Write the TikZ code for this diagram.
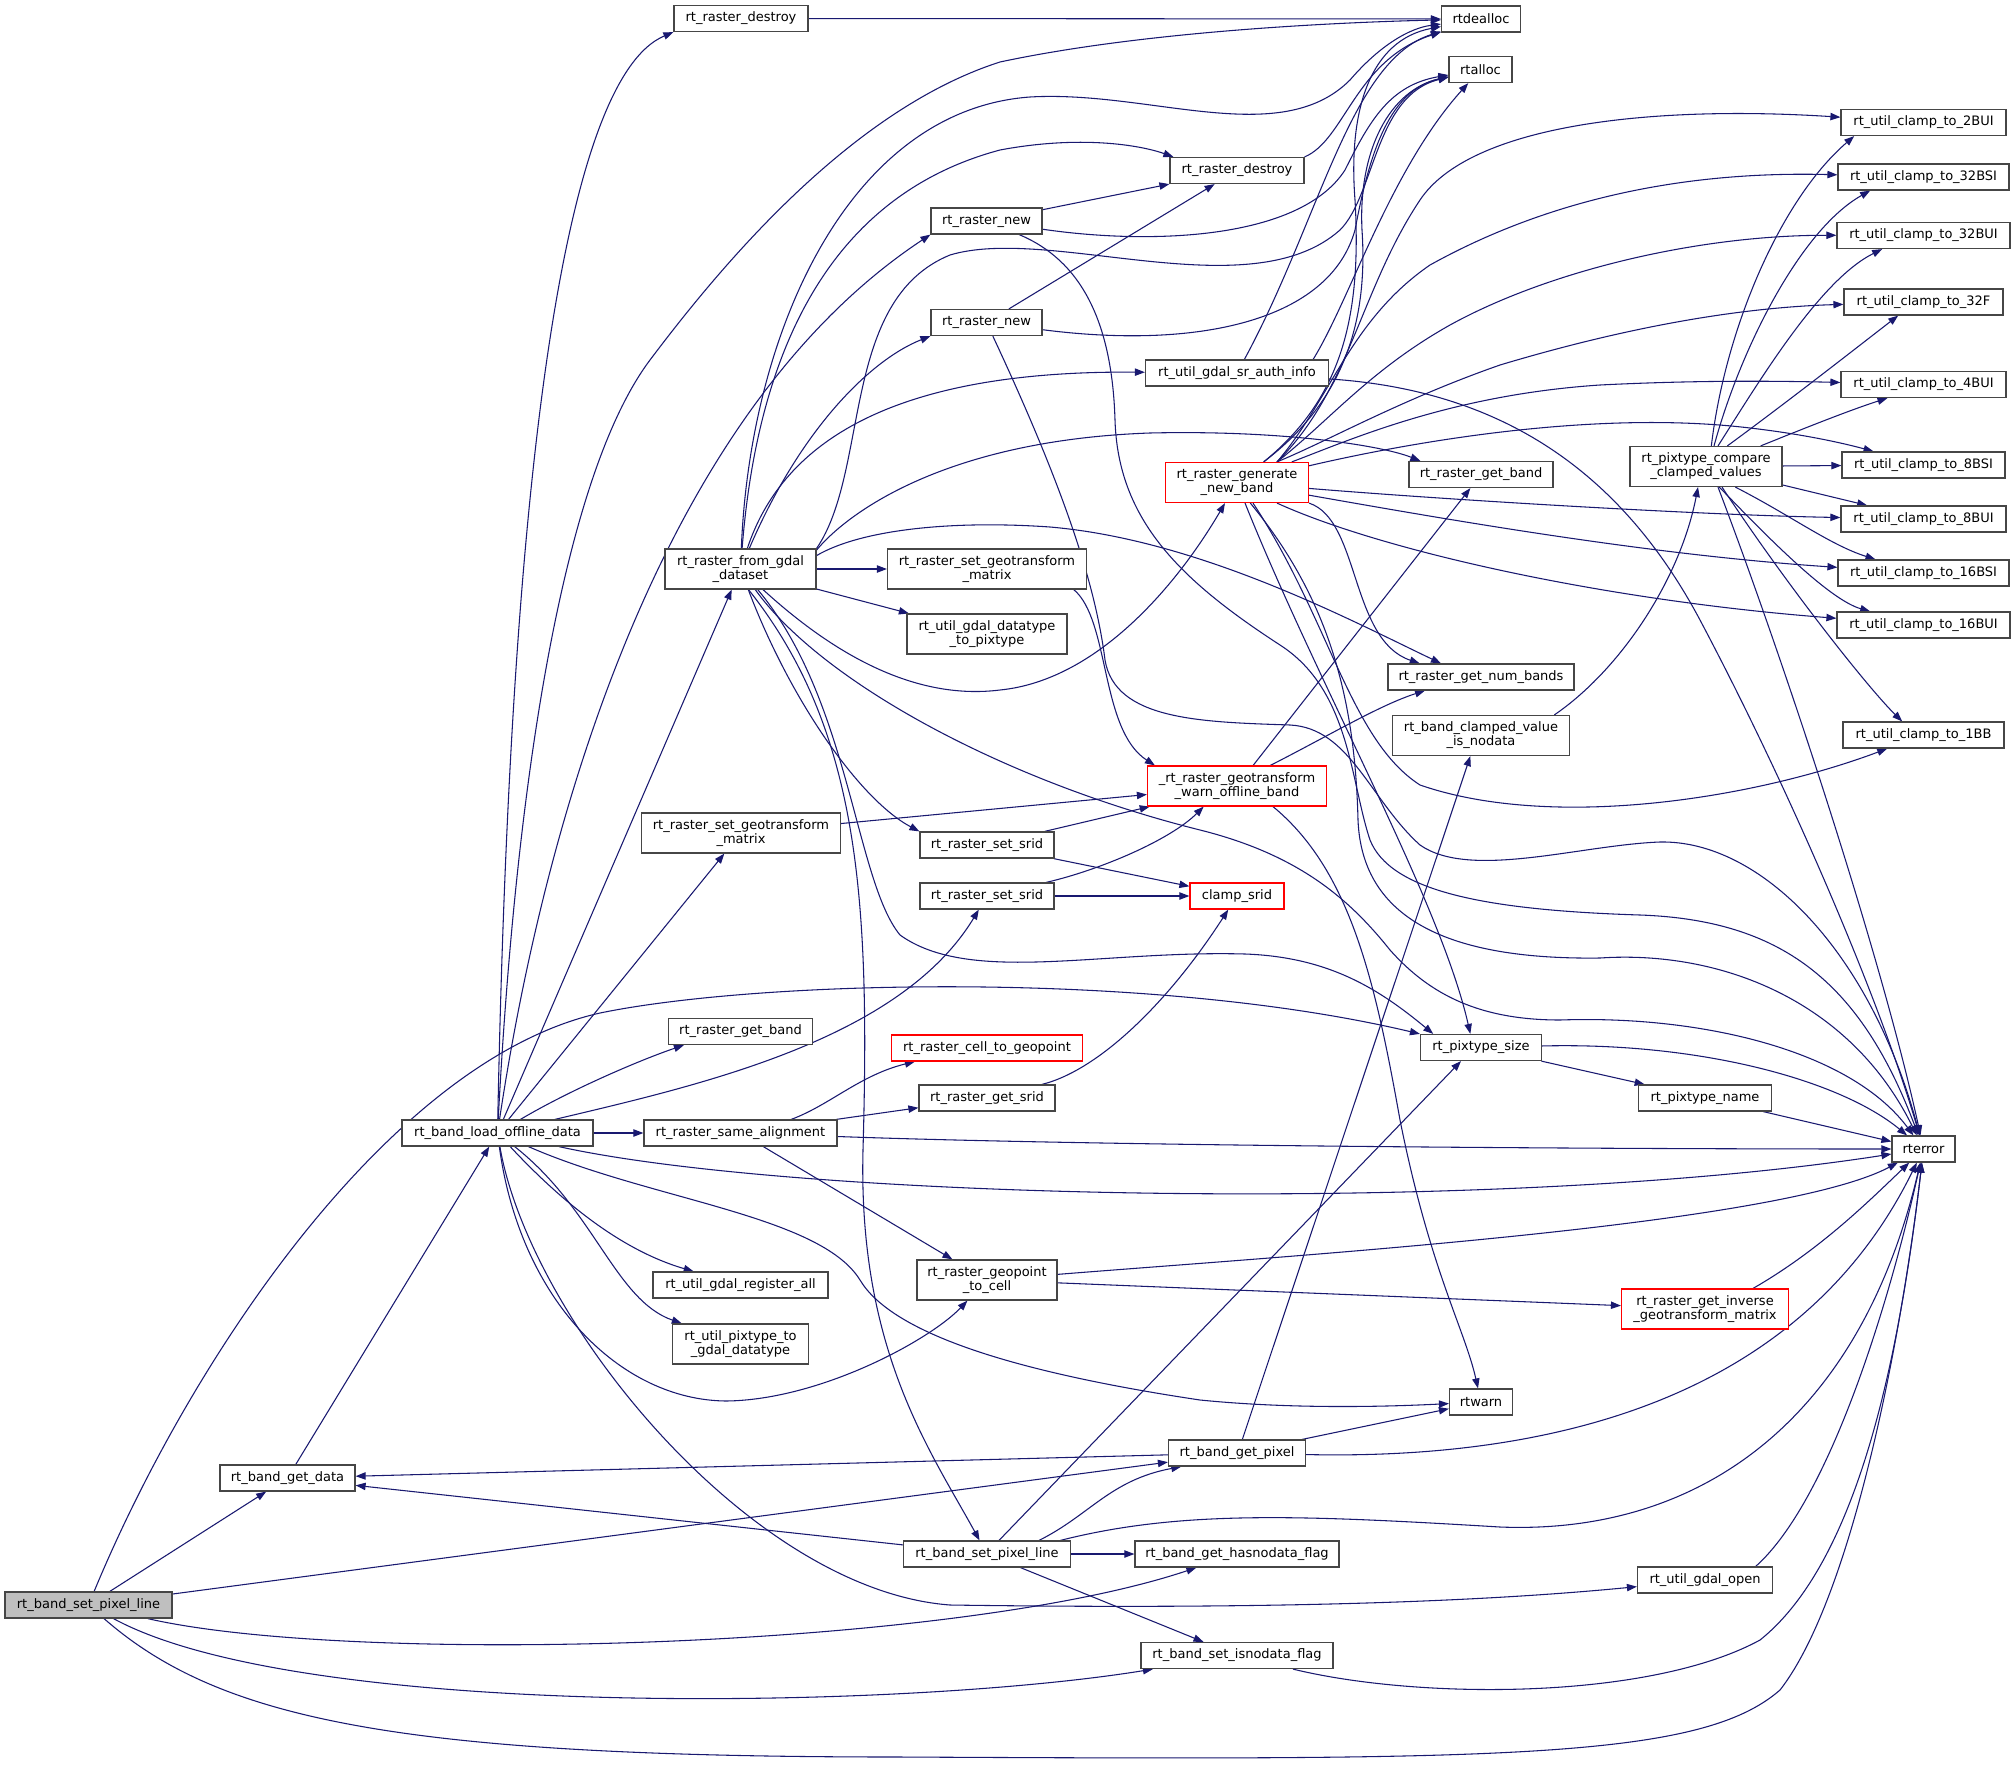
\documentclass[tikz,border=0pt]{standalone}
\usepackage{fontspec}
\setmainfont{DejaVu Sans}
\usetikzlibrary{arrows.meta,backgrounds}
\definecolor{edgec}{RGB}{25,25,112}
\definecolor{rootgray}{RGB}{191,191,191}
\definecolor{nodeb}{RGB}{70,70,70}
\tikzset{
  nd/.style={draw=nodeb, fill=white, line width=0.9pt, inner sep=0pt, align=center,
    font=\fontsize{9.75pt}{10.4pt}\selectfont},
  oneln/.style={minimum height=19.5pt},
  twoln/.style={minimum height=30pt},
  rednd/.style={draw=red},
  cedge/.style={draw=edgec, line width=0.8pt, -{Triangle[length=7.5pt,width=5.5pt]}}
}
\begin{document}
\begin{tikzpicture}[x=0.75pt,y=-0.75pt]
\useasboundingbox (0,0) rectangle (2016,1766);
% ---------------- nodes ----------------
\node[nd,oneln,fill=rootgray,minimum width=125.25pt] (root) at (88.5,1605) {rt\_band\_set\_pixel\_line};
\node[nd,oneln,minimum width=101.25pt] (getdata) at (287.5,1478) {rt\_band\_get\_data};
\node[nd,oneln,minimum width=143.25pt] (load) at (497.5,1133) {rt\_band\_load\_offline\_data};
\node[nd,oneln,minimum width=100.5pt] (destroyA) at (741,18.5) {rt\_raster\_destroy};
\node[nd,oneln,minimum width=59.25pt] (dealloc) at (1481,19) {rtdealloc};
\node[nd,oneln,minimum width=47.25pt] (alloc) at (1480.5,69.5) {rtalloc};
\node[nd,oneln,minimum width=100.5pt] (destroyB) at (1237,170.5) {rt\_raster\_destroy};
\node[nd,oneln,minimum width=83.25pt] (newA) at (986.5,221) {rt\_raster\_new};
\node[nd,oneln,minimum width=83.25pt] (newB) at (986.5,322.5) {rt\_raster\_new};
\node[nd,oneln,minimum width=137.25pt] (srauth) at (1237,373) {rt\_util\_gdal\_sr\_auth\_info};
\node[nd,twoln,rednd,minimum width=107.25pt] (gen) at (1237,482.5) {rt\_raster\_generate\\\_new\_band};
\node[nd,twoln,minimum width=113.25pt] (fromgdal) at (740.5,569) {rt\_raster\_from\_gdal\\\_dataset};
\node[nd,twoln,minimum width=149.25pt] (setgtA) at (987,569) {rt\_raster\_set\_geotransform\\\_matrix};
\node[nd,twoln,minimum width=120pt] (dt2pix) at (987,634) {rt\_util\_gdal\_datatype\\\_to\_pixtype};
\node[nd,twoln,rednd,minimum width=134.25pt] (warn) at (1237,786) {\_rt\_raster\_geotransform\\\_warn\_offline\_band};
\node[nd,twoln,minimum width=149.25pt] (setgtB) at (741,833) {rt\_raster\_set\_geotransform\\\_matrix};
\node[nd,oneln,minimum width=100.5pt] (sridA) at (987,845) {rt\_raster\_set\_srid};
\node[nd,oneln,minimum width=100.5pt] (sridB) at (987,896) {rt\_raster\_set\_srid};
\node[nd,oneln,rednd,minimum width=70.5pt] (clamp) at (1237,896) {clamp\_srid};
\node[nd,oneln,minimum width=108pt] (getbandL) at (740.5,1031.5) {rt\_raster\_get\_band};
\node[nd,oneln,rednd,minimum width=143.25pt] (cell2geo) at (987,1048) {rt\_raster\_cell\_to\_geopoint};
\node[nd,oneln,minimum width=102pt] (getsrid) at (987,1098) {rt\_raster\_get\_srid};
\node[nd,oneln,minimum width=144.75pt] (same) at (740.5,1133) {rt\_raster\_same\_alignment};
\node[nd,oneln,minimum width=131.25pt] (regall) at (740.5,1285) {rt\_util\_gdal\_register\_all};
\node[nd,twoln,minimum width=102pt] (pix2gdal) at (740.5,1344) {rt\_util\_pixtype\_to\\\_gdal\_datatype};
\node[nd,twoln,minimum width=105pt] (geo2cell) at (987,1280) {rt\_raster\_geopoint\\\_to\_cell};
\node[nd,oneln,minimum width=47.25pt] (rtwarn) at (1481,1402) {rtwarn};
\node[nd,oneln,minimum width=102.75pt] (getpixel) at (1237,1453) {rt\_band\_get\_pixel};
\node[nd,oneln,minimum width=125.25pt] (setpixB) at (987,1554) {rt\_band\_set\_pixel\_line};
\node[nd,oneln,minimum width=153pt] (hasnodata) at (1237,1554) {rt\_band\_get\_hasnodata\_flag};
\node[nd,oneln,minimum width=101.25pt] (gdalopen) at (1705,1580) {rt\_util\_gdal\_open};
\node[nd,oneln,minimum width=144pt] (isnodata) at (1237,1655.5) {rt\_band\_set\_isnodata\_flag};
\node[nd,oneln,minimum width=108pt] (getbandR) at (1481,474.5) {rt\_raster\_get\_band};
\node[nd,oneln,minimum width=139.5pt] (numbands) at (1481,677) {rt\_raster\_get\_num\_bands};
\node[nd,twoln,minimum width=132.75pt] (clampednd) at (1481,735.5) {rt\_band\_clamped\_value\\\_is\_nodata};
\node[nd,oneln,minimum width=90.75pt] (pixsize) at (1481,1047.5) {rt\_pixtype\_size};
\node[nd,oneln,minimum width=99.75pt] (pixname) at (1705,1098) {rt\_pixtype\_name};
\node[nd,twoln,rednd,minimum width=125.25pt] (invgt) at (1705,1309) {rt\_raster\_get\_inverse\\\_geotransform\_matrix};
\node[nd,twoln,minimum width=114pt] (compare) at (1706,466.5) {rt\_pixtype\_compare\\\_clamped\_values};
\node[nd,oneln,minimum width=123.75pt] (c2BUI) at (1923.5,122.5) {rt\_util\_clamp\_to\_2BUI};
\node[nd,oneln,minimum width=128.25pt] (c32BSI) at (1923.5,177) {rt\_util\_clamp\_to\_32BSI};
\node[nd,oneln,minimum width=129.75pt] (c32BUI) at (1923.5,235.5) {rt\_util\_clamp\_to\_32BUI};
\node[nd,oneln,minimum width=119.25pt] (c32F) at (1923.5,302) {rt\_util\_clamp\_to\_32F};
\node[nd,oneln,minimum width=123.75pt] (c4BUI) at (1923.5,384.5) {rt\_util\_clamp\_to\_4BUI};
\node[nd,oneln,minimum width=122.25pt] (c8BSI) at (1923.5,465) {rt\_util\_clamp\_to\_8BSI};
\node[nd,oneln,minimum width=123.75pt] (c8BUI) at (1923.5,519) {rt\_util\_clamp\_to\_8BUI};
\node[nd,oneln,minimum width=128.25pt] (c16BSI) at (1923.5,573) {rt\_util\_clamp\_to\_16BSI};
\node[nd,oneln,minimum width=129.75pt] (c16BUI) at (1923.5,625) {rt\_util\_clamp\_to\_16BUI};
\node[nd,oneln,minimum width=120.75pt] (c1BB) at (1923.5,735) {rt\_util\_clamp\_to\_1BB};
\node[nd,oneln,minimum width=47.25pt] (rterror) at (1923.5,1149) {rterror};
% ---------------- edges ----------------
\begin{scope}[on background layer]
\fill[white] (0,0) rectangle (2016,1766);
% root
\draw[cedge] (root) -- (getdata);
\draw[cedge] (root) .. controls (190,1360) and (390,1060) .. (600,1013) .. controls (760,980) and (1150,970) .. (pixsize.north west);
\draw[cedge] (root) -- (getpixel);
\draw[cedge] (root) .. controls (350,1665) and (950,1650) .. (hasnodata);
\draw[cedge] (root) .. controls (300,1720) and (900,1710) .. (isnodata);
\draw[cedge] (root) .. controls (220,1720) and (400,1757) .. (900,1757) .. controls (1500,1760) and (1700,1760) .. (1780,1690) .. controls (1850,1600) and (1900,1350) .. (rterror);
% get_data
\draw[cedge] (getdata) -- (load);
% load_offline_data
\draw[cedge] (load) .. controls (510,500) and (560,80) .. (destroyA.south west);
\draw[cedge] (load) .. controls (515,800) and (560,480) .. (650,360) .. controls (720,267) and (850,110) .. (1000,62) .. controls (1150,30) and (1350,22) .. (dealloc);
\draw[cedge] (load) .. controls (540,850) and (650,420) .. (newA.south west);
\draw[cedge] (load) -- (fromgdal);
\draw[cedge] (load) -- (setgtB);
\draw[cedge] (load) .. controls (570,1090) and (640,1060) .. ([xshift=12pt]getbandL.south west);
\draw[cedge] (load) .. controls (700,1085) and (900,1040) .. (sridB);
\draw[cedge] (load) -- (same);
\draw[cedge] (load) .. controls (800,1200) and (1500,1215) .. (rterror);
\draw[cedge] (load) .. controls (560,1200) and (620,1250) .. (regall);
\draw[cedge] (load) .. controls (595,1210) and (615,1300) .. (pix2gdal);
\draw[cedge] (load) .. controls (520,1300) and (620,1400) .. (726,1401) .. controls (820,1400) and (930,1340) .. (geo2cell);
\draw[cedge] (load) .. controls (650,1200) and (820,1215) .. (860,1280) .. controls (890,1330) and (1000,1370) .. (1200,1400) .. controls (1300,1410) and (1400,1406) .. (rtwarn);
\draw[cedge] (load) .. controls (530,1320) and (750,1590) .. (950,1605) .. controls (1300,1610) and (1500,1600) .. (gdalopen);
% from_gdal_dataset
\draw[cedge] (fromgdal) .. controls (750,330) and (850,110) .. (1030,97) .. controls (1150,90) and (1280,150) .. (1350,80) .. controls (1380,45) and (1410,28) .. (dealloc);
\draw[cedge] (fromgdal) .. controls (760,320) and (850,190) .. (1000,150) .. controls (1080,135) and (1140,145) .. ([xshift=3pt]destroyB.north west);
\draw[cedge] (fromgdal.north east) .. controls (870,470) and (840,300) .. (950,255) .. controls (1050,225) and (1250,310) .. (1340,230) .. controls (1375,195) and (1375,95) .. (alloc);
\draw[cedge] (fromgdal) .. controls (800,430) and (870,360) .. (newB.south west);
\draw[cedge] (fromgdal) .. controls (780,450) and (880,370) .. (srauth);
\draw[cedge] (fromgdal.14) .. controls (850,510) and (950,440) .. (1150,433) .. controls (1280,430) and (1380,445) .. ([xshift=9pt]getbandR.north west);
\draw[cedge] (fromgdal) -- (setgtA);
\draw[cedge] (fromgdal) -- (dt2pix);
\draw[cedge] (fromgdal) .. controls (840,660) and (920,700) .. (1000,690) .. controls (1100,680) and (1180,580) .. (gen);
\draw[cedge] (fromgdal.10) .. controls (860,530) and (950,520) .. (1050,527) .. controls (1200,540) and (1350,620) .. ([xshift=-30pt]numbands.north);
\draw[cedge] (fromgdal) .. controls (790,700) and (860,800) .. (sridA.north west);
\draw[cedge] (fromgdal) .. controls (850,700) and (855,880) .. (900,935) .. controls (970,985) and (1100,950) .. (1245,954) .. controls (1330,957) and (1380,990) .. ([xshift=10pt]pixsize.north west);
\draw[cedge] ([xshift=6pt]fromgdal.south) .. controls (860,730) and (870,900) .. (863,1150) .. controls (858,1350) and (930,1450) .. (setpixB);
\draw[cedge] (fromgdal) .. controls (820,680) and (1000,780) .. (1200,830) .. controls (1300,855) and (1350,900) .. (1390,950) .. controls (1430,995) and (1480,1020) .. (1560,1020) .. controls (1700,1015) and (1850,1050) .. (rterror);
% rt_raster_new (upper)
\draw[cedge] (newA) -- (destroyB);
\draw[cedge] (newA) .. controls (1150,245) and (1300,240) .. (1345,170) .. controls (1370,120) and (1390,85) .. (alloc);
\draw[cedge] (newA) .. controls (1080,260) and (1112,320) .. (1115,420) .. controls (1118,520) and (1180,580) .. (1280,645) .. controls (1350,690) and (1350,780) .. (1370,840) .. controls (1390,890) and (1480,910) .. (1640,915) .. controls (1780,920) and (1860,980) .. (rterror);
% rt_raster_new (lower)
\draw[cedge] (newB) -- (destroyB);
\draw[cedge] (newB) .. controls (1200,350) and (1330,320) .. (1355,230) .. controls (1370,150) and (1390,90) .. (alloc);
\draw[cedge] (newB) .. controls (1060,480) and (1095,580) .. (1105,660) .. controls (1115,720) and (1200,722) .. (1290,725) .. controls (1350,728) and (1370,800) .. (1420,845) .. controls (1470,880) and (1580,845) .. (1660,842) .. controls (1760,840) and (1870,950) .. (rterror);
% sr_auth_info
\draw[cedge] (srauth) .. controls (1320,220) and (1350,60) .. (dealloc);
\draw[cedge] ([xshift=-12pt]srauth.north east) .. controls (1350,300) and (1390,170) .. (alloc);
\draw[cedge] (srauth) .. controls (1500,390) and (1620,470) .. (1700,620) .. controls (1790,790) and (1880,1000) .. (rterror);
% destroy
\draw[cedge] (destroyA) -- (dealloc);
\draw[cedge] (destroyB.north east) .. controls (1345,140) and (1355,60) .. (dealloc);
% generate_new_band
\draw[cedge] ([xshift=20pt]gen.north) .. controls (1340,400) and (1362,320) .. (1355,200) .. controls (1348,110) and (1370,40) .. (dealloc);
\draw[cedge] ([xshift=20pt]gen.north) .. controls (1345,400) and (1368,320) .. (1362,230) .. controls (1358,150) and (1390,90) .. (alloc);
\draw[cedge] ([xshift=30pt]gen.north) .. controls (1350,390) and (1360,290) .. (1420,200) .. controls (1470,125) and (1650,105) .. (c2BUI);
\draw[cedge] ([xshift=30pt]gen.north) .. controls (1330,400) and (1350,320) .. (1430,265) .. controls (1520,215) and (1650,170) .. (c32BSI);
\draw[cedge] ([xshift=30pt]gen.north) .. controls (1330,420) and (1370,370) .. (1450,325) .. controls (1550,270) and (1700,235) .. (c32BUI);
\draw[cedge] ([xshift=30pt]gen.north) .. controls (1330,440) and (1400,400) .. (1500,365) .. controls (1600,335) and (1720,308) .. (c32F);
\draw[cedge] (gen) .. controls (1350,440) and (1450,395) .. (1600,385) .. controls (1700,380) and (1780,381) .. (c4BUI);
\draw[cedge] (gen) .. controls (1420,440) and (1600,410) .. (1750,428) .. controls (1810,435) and (1850,445) .. (c8BSI);
\draw[cedge] (gen) .. controls (1450,500) and (1700,515) .. (c8BUI);
\draw[cedge] (gen) .. controls (1450,520) and (1650,555) .. (c16BSI);
\draw[cedge] ([xshift=30pt]gen.south) .. controls (1380,550) and (1600,600) .. (c16BUI);
\draw[cedge] ([xshift=12pt]gen.south) .. controls (1330,620) and (1350,740) .. (1420,785) .. controls (1550,830) and (1750,800) .. (c1BB);
\draw[cedge] ([xshift=6pt]gen.south) .. controls (1320,690) and (1440,900) .. ([xshift=-8pt]pixsize.north);
\draw[cedge] ([xshift=10pt]gen.south) .. controls (1330,600) and (1355,700) .. (1358,820) .. controls (1362,920) and (1450,960) .. (1600,958) .. controls (1720,950) and (1850,1000) .. (rterror);
\draw[cedge] (gen.south east) .. controls (1360,520) and (1350,640) .. ([xshift=-46pt]numbands.north);
% warn_offline_band
\draw[cedge] (warn) -- (getbandR);
\draw[cedge] ([xshift=25pt]warn.north) .. controls (1330,735) and (1380,705) .. ([xshift=-42pt]numbands.south);
\draw[cedge] ([xshift=27pt]warn.south) .. controls (1350,870) and (1375,980) .. (1400,1120) .. controls (1430,1270) and (1465,1330) .. (rtwarn);
% geotransform / srid
\draw[cedge] ([xshift=-10pt]setgtA.south east) .. controls (1110,620) and (1100,730) .. ([xshift=6pt]warn.north west);
\draw[cedge] (setgtB) -- (warn);
\draw[cedge] (sridA) -- (warn);
\draw[cedge] (sridA) -- (clamp);
\draw[cedge] (sridB) .. controls (1100,870) and (1170,840) .. ([xshift=-25pt]warn.south);
\draw[cedge] (sridB) -- (clamp);
\draw[cedge] (getsrid) .. controls (1100,1070) and (1170,1000) .. (clamp);
% same_alignment
\draw[cedge] ([xshift=38pt]same.north) .. controls (830,1105) and (860,1075) .. ([xshift=18pt]cell2geo.south west);
\draw[cedge] (same) -- (getsrid);
\draw[cedge] (same) -- (geo2cell);
\draw[cedge] (same) .. controls (1100,1146) and (1600,1149) .. (rterror);
% geopoint_to_cell
\draw[cedge] (geo2cell) .. controls (1300,1255) and (1780,1225) .. (rterror);
\draw[cedge] (geo2cell) -- (invgt);
\draw[cedge] ([xshift=36pt]invgt.north) .. controls (1820,1250) and (1870,1200) .. (rterror);
% pixtype
\draw[cedge] (pixsize) -- (pixname);
\draw[cedge] (pixsize) .. controls (1700,1042) and (1840,1080) .. (rterror);
\draw[cedge] (pixname) -- (rterror);
% compare_clamped_values
\draw[cedge] ([xshift=4pt]compare.north) .. controls (1725,330) and (1780,200) .. ([xshift=-52pt]c2BUI.south);
\draw[cedge] ([xshift=6pt]compare.north) .. controls (1740,350) and (1800,230) .. ([xshift=-40pt]c32BSI.south);
\draw[cedge] ([xshift=9pt]compare.north) .. controls (1760,380) and (1820,280) .. ([xshift=-31pt]c32BUI.south);
\draw[cedge] ([xshift=16pt]compare.north) .. controls (1790,400) and (1860,345) .. ([xshift=-19pt]c32F.south);
\draw[cedge] ([xshift=41pt]compare.north) .. controls (1800,430) and (1850,410) .. ([xshift=-27pt]c4BUI.south);
\draw[cedge] (compare) -- (c8BSI);
\draw[cedge] (compare) -- (c8BUI);
\draw[cedge] ([xshift=22pt]compare.south) .. controls (1790,515) and (1830,545) .. ([xshift=-36pt]c16BSI.north);
\draw[cedge] ([xshift=10pt]compare.south) .. controls (1770,540) and (1830,600) .. ([xshift=-40pt]c16BUI.north);
\draw[cedge] ([xshift=12pt]compare.south) .. controls (1790,590) and (1870,690) .. ([xshift=-16pt]c1BB.north);
\draw[cedge] ([xshift=9pt]compare.south) .. controls (1780,650) and (1880,950) .. (rterror);
\draw[cedge] ([xshift=55pt]clampednd.north) .. controls (1620,670) and (1680,580) .. ([xshift=-6pt]compare.south);
% get_pixel
\draw[cedge] (getpixel) -- (getdata);
\draw[cedge] (getpixel) -- (rtwarn);
\draw[cedge] (getpixel) .. controls (1550,1460) and (1800,1400) .. (rterror);
\draw[cedge] ([xshift=4pt]getpixel.north) -- ([xshift=-8pt]clampednd.south);
% set_pixel_line (callee)
\draw[cedge] (setpixB) -- (getdata);
\draw[cedge] ([xshift=9pt]setpixB.north) -- ([xshift=-15pt]pixsize.south);
\draw[cedge] ([xshift=39pt]setpixB.north) .. controls (1090,1515) and (1110,1480) .. ([xshift=10pt]getpixel.south west);
\draw[cedge] (setpixB) -- (hasnodata);
\draw[cedge] (setpixB) -- (isnodata);
\draw[cedge] ([xshift=55pt]setpixB.north) .. controls (1180,1510) and (1300,1515) .. (1500,1527) .. controls (1700,1535) and (1860,1420) .. (rterror);
% others
\draw[cedge] ([xshift=38pt]gdalopen.north) .. controls (1830,1500) and (1890,1300) .. (rterror);
\draw[cedge] ([xshift=42pt]isnodata.south) .. controls (1420,1700) and (1650,1700) .. (1760,1640) .. controls (1860,1560) and (1900,1350) .. (rterror);
\end{scope}
\end{tikzpicture}
\end{document}
